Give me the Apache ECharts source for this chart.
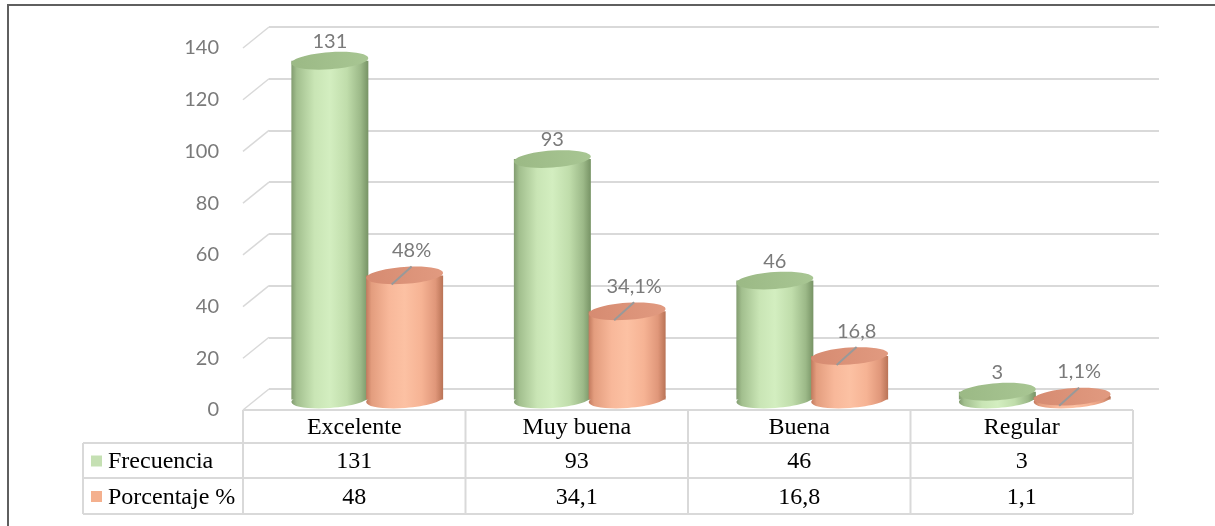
<!DOCTYPE html>
<html>
<head>
<meta charset="utf-8">
<script src="https://cdn.jsdelivr.net/npm/echarts@6/dist/echarts.min.js"></script>
<style>
  html, body { margin: 0; padding: 0; background: #ffffff; }
  #chart { width: 1215px; height: 526px; }
</style>
</head>
<body>
<div id="chart"></div>
<script>
// ---- data ----
const categories = ['Excelente', 'Muy buena', 'Buena', 'Regular'];
const seriesNames = ['Frecuencia', 'Porcentaje %'];
const frecuencia = [131, 93, 46, 3];
const porcentaje = [48, 34.1, 16.8, 1.1];
const porcentajeLabels = ['48%', '34,1%', '16,8', '1,1%'];
const yTicks = [0, 20, 40, 60, 80, 100, 120, 140];

// ---- layout (pseudo-3D: back wall, mid depth for the cylinders, front edge) ----
const FRONT = { left: 243, top: 48, width: 890, height: 362 };
const DEPTH = { dx: 26, dy: -21 };
const MID = { left: FRONT.left + DEPTH.dx / 2, top: FRONT.top + DEPTH.dy / 2, width: FRONT.width, height: FRONT.height };
const BACK = { left: FRONT.left + DEPTH.dx, top: FRONT.top + DEPTH.dy, width: FRONT.width, height: FRONT.height };
const TABLE = { labelLeft: 83, rows: [FRONT.top + FRONT.height, 443, 478, 514] };

const GRID_COLOR = '#d9d9d9';
const LABEL_COLOR = '#7a7a7a';
const SANS = 'Lato, "Open Sans", sans-serif';
const SERIF = '"Liberation Serif", "Times New Roman", serif';

const palette = [
  {
    body: [[0, '#829c70'], [0.07, '#a2bf8e'], [0.3, '#c9e5b5'], [0.5, '#d3eec0'], [0.72, '#c0ddab'], [0.9, '#9cb988'], [1, '#779365']],
    top: ['#9bb985', '#a8c693'],
    legend: '#c5e0b3'
  },
  {
    body: [[0, '#c27a5e'], [0.07, '#e39d7e'], [0.3, '#f8b89a'], [0.5, '#fcc1a3'], [0.72, '#f6b394'], [0.9, '#e0977a'], [1, '#b97356']],
    top: ['#d68b71', '#e19a80'],
    legend: '#f4b08e'
  }
];

function gradient(stops) {
  return new echarts.graphic.LinearGradient(0, 0, 1, 0, stops.map(s => ({ offset: s[0], color: s[1] })));
}

// one cylinder per data item, centred in its half of the category band
function cylinderRenderer(seriesIdx) {
  return function (params, api) {
    const cat = api.value(0);
    const val = api.value(1);
    const top = api.coord([cat, val]);
    const base = api.coord([cat, 0]);
    const band = api.size([1, 0])[0];
    const cx = top[0] + (seriesIdx === 0 ? -1 : 1) * band * 0.168;
    const rx = band * 0.173;
    const ry = 8.5;
    const tilt = 0.07;
    const pal = palette[seriesIdx];
    const children = [
      {
        type: 'ellipse',
        x: cx, y: base[1], rotation: tilt,
        shape: { cx: 0, cy: 0, rx: rx, ry: ry },
        style: { fill: gradient(pal.body) }
      },
      {
        type: 'rect',
        shape: { x: cx - rx, y: top[1], width: rx * 2, height: Math.max(base[1] - top[1], 0) },
        style: { fill: gradient(pal.body) }
      },
      {
        type: 'ellipse',
        x: cx, y: top[1], rotation: tilt,
        shape: { cx: 0, cy: 0, rx: rx, ry: ry },
        style: {
          fill: new echarts.graphic.LinearGradient(0, 0, 1, 0, [
            { offset: 0, color: pal.top[0] }, { offset: 1, color: pal.top[1] }
          ])
        }
      }
    ];
    if (seriesIdx === 0) {
      children.push({
        type: 'text',
        style: {
          text: String(frecuencia[params.dataIndex]),
          x: cx, y: top[1] - 19,
          fill: LABEL_COLOR, fontFamily: SANS, fontSize: 20,
          align: 'center', verticalAlign: 'middle', textAlign: 'center', textVerticalAlign: 'middle'
        }
      });
    } else {
      children.push({
        type: 'line',
        shape: { x1: cx + 7, y1: top[1] - 9, x2: cx - 13, y2: top[1] + 9 },
        style: { stroke: '#999999', lineWidth: 2 }
      });
      children.push({
        type: 'text',
        style: {
          text: porcentajeLabels[params.dataIndex],
          x: cx + 7, y: top[1] - 25,
          fill: LABEL_COLOR, fontFamily: SANS, fontSize: 20,
          align: 'center', verticalAlign: 'middle', textAlign: 'center', textVerticalAlign: 'middle'
        }
      });
    }
    return { type: 'group', children: children };
  };
}

// side-wall diagonals joining each tick on the front edge to the back wall
function sideWallRenderer(params, api) {
  const y = api.coord([0, api.value(1)])[1];
  const x = params.coordSys.x;
  return {
    type: 'line',
    shape: { x1: x, y1: y, x2: x + DEPTH.dx, y2: y + DEPTH.dy },
    style: { stroke: GRID_COLOR, lineWidth: 1.5 }
  };
}

// ---- data table under the plot ----
function tableGraphics() {
  const els = [];
  const line = (x1, y1, x2, y2) => els.push({
    type: 'line', silent: true,
    shape: { x1, y1, x2, y2 },
    style: { stroke: GRID_COLOR, lineWidth: 2 }
  });
  const text = (str, x, y, align) => els.push({
    type: 'text', silent: true,
    style: {
      text: str, x, y, fill: '#000000', fontFamily: SERIF, fontSize: 24,
      align, verticalAlign: 'middle', textAlign: align, textVerticalAlign: 'middle'
    }
  });
  const r = TABLE.rows;
  const colW = FRONT.width / categories.length;
  const right = FRONT.left + FRONT.width;
  line(FRONT.left, r[0], right, r[0]);
  for (let i = 1; i < r.length; i++) line(TABLE.labelLeft, r[i], right, r[i]);
  line(TABLE.labelLeft, r[1], TABLE.labelLeft, r[3]);
  for (let k = 0; k <= categories.length; k++) {
    const x = FRONT.left + k * colW;
    line(x, r[0], x, r[3]);
  }
  const rowMid = i => (r[i] + r[i + 1]) / 2 + 1.5;
  categories.forEach((c, k) => {
    const x = FRONT.left + (k + 0.5) * colW;
    text(c, x, rowMid(0), 'center');
    text(String(frecuencia[k]), x, rowMid(1), 'center');
    text(String(porcentaje[k]).replace('.', ','), x, rowMid(2), 'center');
  });
  seriesNames.forEach((name, s) => {
    const cy = rowMid(s + 1) - 1;
    els.push({
      type: 'rect', silent: true,
      shape: { x: 91, y: cy - 5.5, width: 11, height: 11 },
      style: { fill: palette[s].legend }
    });
    text(name, 108, rowMid(s + 1), 'left');
  });
  // outer frame (left and top rules)
  els.push({ type: 'line', silent: true, shape: { x1: 8, y1: 5, x2: 8, y2: 526 }, style: { stroke: '#5f5f5f', lineWidth: 2 } });
  els.push({ type: 'line', silent: true, shape: { x1: 7, y1: 5, x2: 1215, y2: 5 }, style: { stroke: '#5f5f5f', lineWidth: 2 } });
  return els;
}

const hiddenX = idx => ({ type: 'category', gridIndex: idx, data: categories, show: false });
const yBase = idx => ({
  type: 'value', gridIndex: idx, min: 0, max: 140, interval: 20,
  axisLine: { show: false }, axisTick: { show: false }
});

const chart = echarts.init(document.getElementById('chart'), null, { renderer: 'canvas' });
chart.setOption({
  animation: false,
  backgroundColor: '#ffffff',
  grid: [
    Object.assign({ outerBoundsMode: 'none', containLabel: false }, BACK),
    Object.assign({ outerBoundsMode: 'none', containLabel: false }, MID),
    Object.assign({ outerBoundsMode: 'none', containLabel: false }, FRONT)
  ],
  xAxis: [hiddenX(0), hiddenX(1), hiddenX(2)],
  yAxis: [
    Object.assign(yBase(0), {
      axisLabel: { show: false },
      splitLine: { show: true, lineStyle: { color: GRID_COLOR, width: 2 } }
    }),
    Object.assign(yBase(1), { show: false, splitLine: { show: false } }),
    Object.assign(yBase(2), {
      splitLine: { show: false },
      axisLabel: { margin: 24, color: LABEL_COLOR, fontFamily: SANS, fontSize: 20 }
    })
  ],
  series: [
    {
      type: 'custom', name: 'pared', xAxisIndex: 2, yAxisIndex: 2, silent: true,
      renderItem: sideWallRenderer,
      data: yTicks.map(v => [0, v])
    },
    {
      type: 'custom', name: seriesNames[0], xAxisIndex: 1, yAxisIndex: 1, z: 3,
      renderItem: cylinderRenderer(0),
      data: frecuencia.map((v, i) => [i, v])
    },
    {
      type: 'custom', name: seriesNames[1], xAxisIndex: 1, yAxisIndex: 1, z: 4,
      renderItem: cylinderRenderer(1),
      data: porcentaje.map((v, i) => [i, v])
    }
  ],
  graphic: { elements: tableGraphics() }
});
</script>
</body>
</html>
